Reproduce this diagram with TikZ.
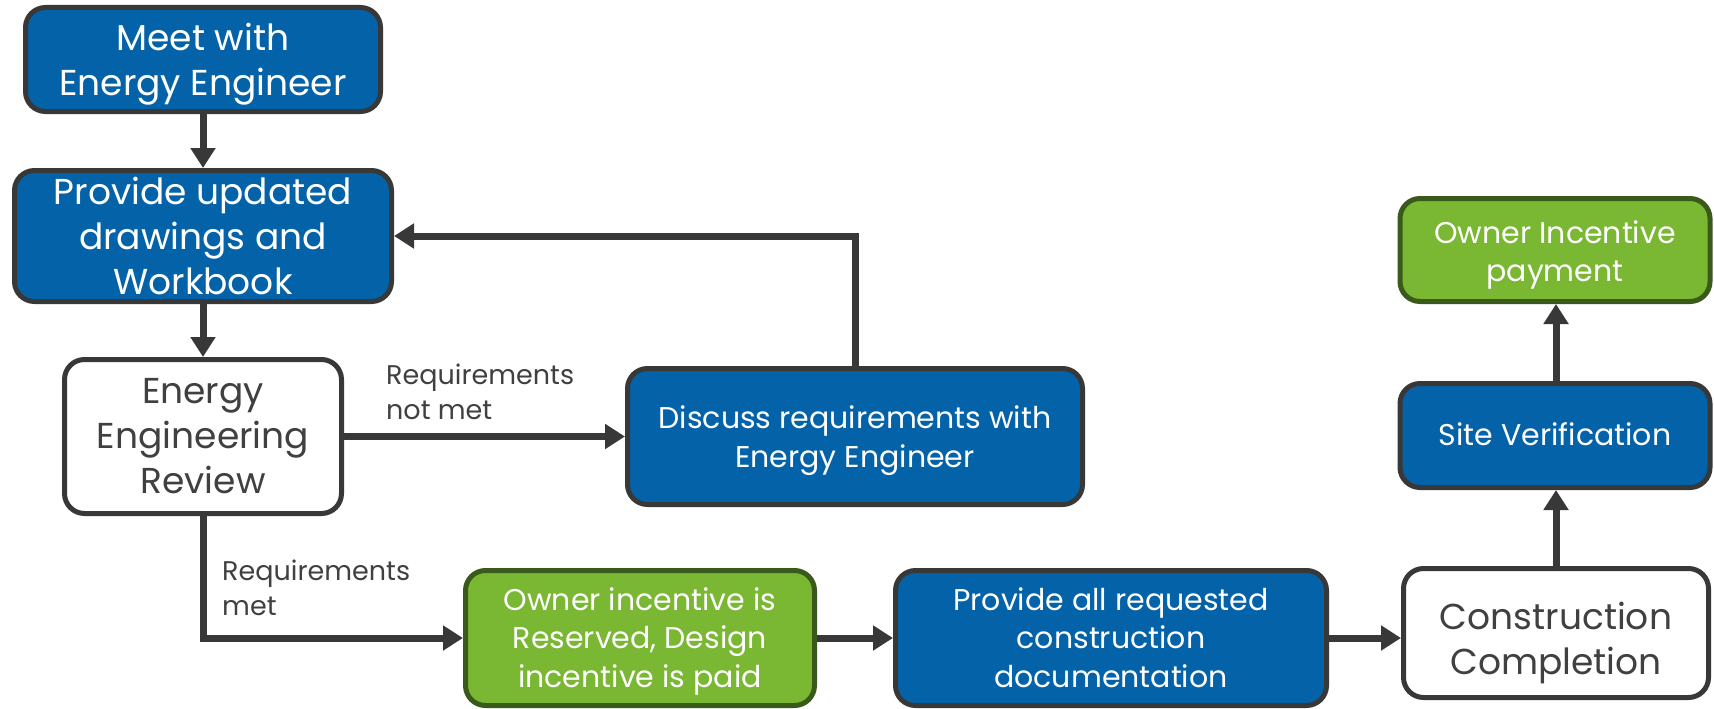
\documentclass[tikz,border=0pt]{standalone}
\usepackage{fontspec}
\setmainfont{Poppins}
\usetikzlibrary{arrows.meta}
\definecolor{boxblue}{HTML}{0463A8}
\definecolor{boxgreen}{HTML}{7AB733}
\definecolor{greenrim}{HTML}{3A5A1C}
\definecolor{rim}{HTML}{383838}
\definecolor{ink}{HTML}{404040}
% lines of a box label, moved down by #1 without changing the box size
\newcommand{\lowerlines}[2]{\raisebox{-#1}[\height][\depth]{\begin{tabular}{@{}c@{}}#2\end{tabular}}}
\begin{document}
\begin{tikzpicture}[x=1pt,y=-1pt,
  box/.style={rectangle, rounded corners=20pt, line width=5pt, draw=rim,
    align=center, inner sep=2pt},
  bluebox/.style={box, fill=boxblue, text=white},
  greenbox/.style={box, fill=boxgreen, draw=greenrim, text=white},
  whitebox/.style={box, fill=white, text=ink},
  big/.style={font=\fontsize{36}{45}\selectfont},
  mid/.style={font=\fontsize{30}{38.5}\selectfont},
  lbl/.style={font=\fontsize{27}{35}\selectfont, text=ink, align=left, inner sep=0pt},
  flow/.style={draw=rim, line width=7pt, -{Triangle[length=20pt,width=24pt]}}
]
\useasboundingbox (0,0) rectangle (1714,709);

\node[bluebox, big, minimum width=355pt, minimum height=104pt] (meet) at (203,59.5)
  {\lowerlines{5pt}{Meet with\\Energy Engineer}};
\node[bluebox, big, minimum width=377pt, minimum height=131pt] (upd) at (203,236)
  {Provide updated\\drawings and\\Workbook};
\node[whitebox, big, minimum width=277pt, minimum height=154pt] (rev) at (203,436.5)
  {Energy\\Engineering\\Review};
\node[bluebox, mid, minimum width=455pt, minimum height=136pt] (disc) at (855,436.5)
  {\lowerlines{4pt}{Discuss requirements with\\Energy Engineer}};
\node[greenbox, mid, minimum width=349pt, minimum height=135pt] (res) at (640,638)
  {\lowerlines{3pt}{Owner incentive is\\Reserved, Design\\incentive is paid}};
\node[bluebox, mid, minimum width=431pt, minimum height=135pt] (doc) at (1111,638)
  {\lowerlines{3pt}{Provide all requested\\construction\\documentation}};
\node[whitebox, big, minimum width=305pt, minimum height=129pt] (cons) at (1556,633)
  {\lowerlines{10pt}{Construction\\Completion}};
\node[bluebox, mid, minimum width=310pt, minimum height=104pt] (site) at (1555,435.5)
  {\lowerlines{2pt}{Site Verification}};
\node[greenbox, mid, minimum width=310pt, minimum height=103pt] (pay) at (1555,250)
  {\lowerlines{5pt}{Owner Incentive\\payment}};

\node[lbl, anchor=north west] (notmet) at (386,364) {Requirements\\not met};
\node[lbl, anchor=north west] (met) at (222,560) {Requirements\\met};

\draw[flow] (meet.south) -- (upd.north);
\draw[flow] (upd.south) -- (rev.north);
\draw[flow] (rev.east) -- (disc.west);
\draw[flow] (disc.north) |- (upd.east);
\draw[flow] (rev.south) |- (res.west);
\draw[flow] (res.east) -- (doc.west);
\draw[flow] (doc.east) -- (doc.east -| cons.west);
\draw[flow] (cons.north) -- (cons.north |- site.south);
\draw[flow] (cons.north |- site.north) -- (cons.north |- pay.south);
\end{tikzpicture}
\end{document}
